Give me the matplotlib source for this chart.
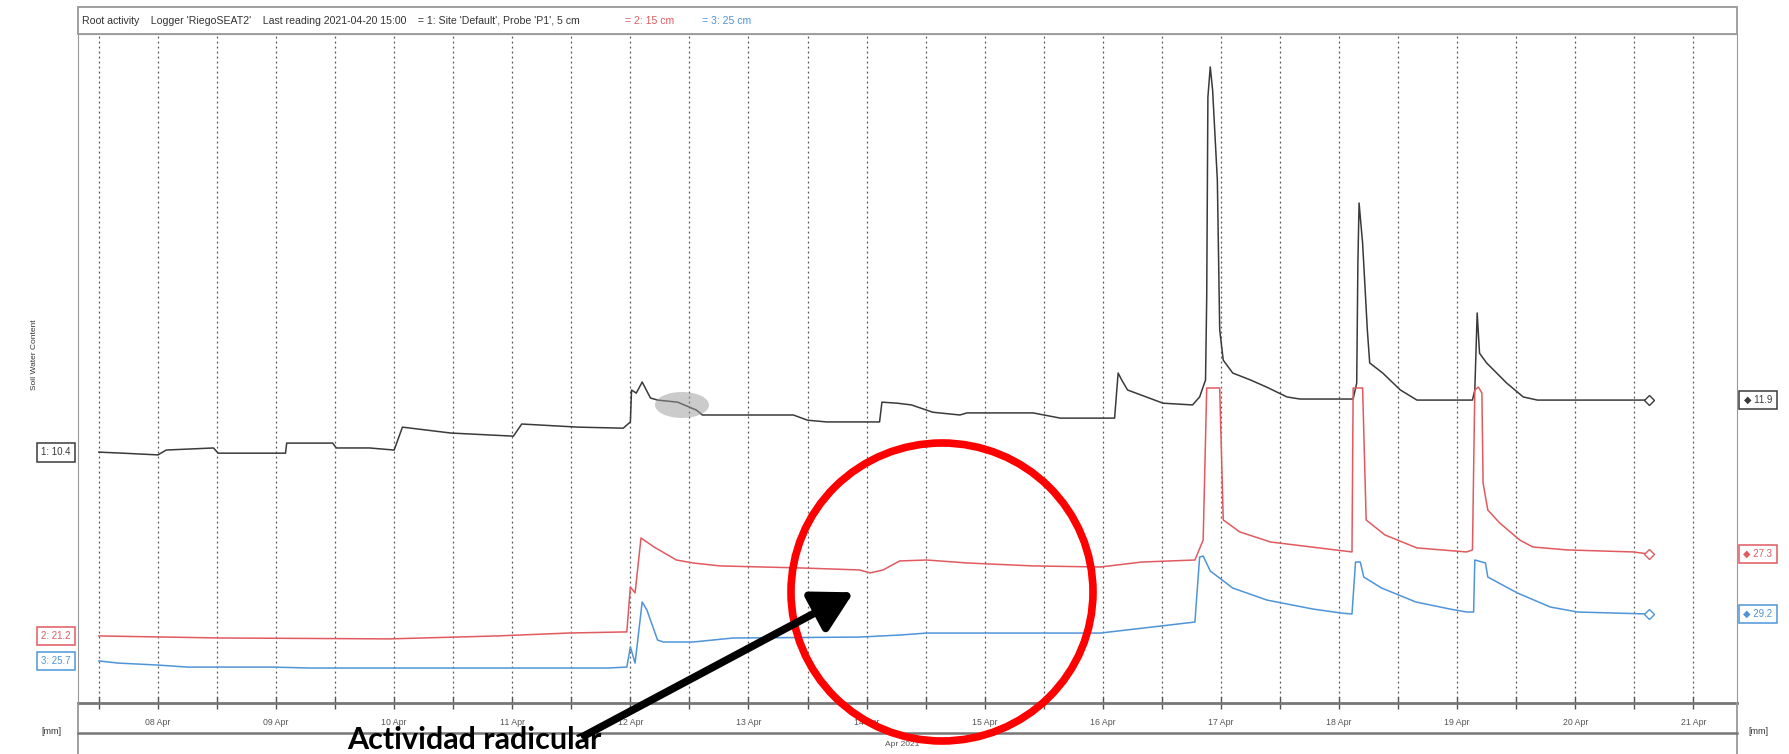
import matplotlib
matplotlib.use("Agg")
import matplotlib.pyplot as plt
import matplotlib.dates as mdates
import matplotlib.transforms as mtrans
from matplotlib.patches import Ellipse, Rectangle, FancyArrowPatch
from matplotlib.lines import Line2D
import pandas as pd

plt.rcParams["font.family"] = ["Liberation Sans", "DejaVu Sans"]

W, H = 1790, 754
t0 = pd.Timestamp("2021-04-08")

# soil water content [mm], x = days since 08 Apr 00:00
black_days = [-0.50, -0.30, 0.00, 0.07, 0.47, 0.51, 1.08, 1.09, 1.48, 1.51, 1.79, 2.00, 2.07,
              2.48, 3.01, 3.08, 3.56, 3.94, 4.00, 4.01, 4.05, 4.10, 4.17, 4.23, 4.40, 4.56,
              4.61, 5.01, 5.38, 5.50, 5.66, 6.11, 6.13, 6.26, 6.38, 6.56, 6.79, 6.85, 7.41,
              7.64, 8.10, 8.13, 8.16, 8.21, 8.51, 8.76, 8.82, 8.87, 8.88, 8.89, 8.91, 8.93,
              8.97, 8.99, 9.02, 9.10, 9.25, 9.39, 9.56, 9.67, 10.12, 10.15, 10.16, 10.17,
              10.20, 10.24, 10.26, 10.37, 10.52, 10.66, 11.13, 11.15, 11.17, 11.19, 11.25,
              11.42, 11.56, 11.68, 12.625]
black_mm = [10.40, 10.37, 10.32, 10.46, 10.52, 10.37, 10.37, 10.66, 10.66, 10.52, 10.52, 10.46,
            11.12, 10.95, 10.86, 11.21, 11.12, 11.09, 11.27, 12.19, 12.10, 12.42, 11.96, 11.90,
            11.84, 11.61, 11.47, 11.47, 11.47, 11.32, 11.27, 11.27, 11.84, 11.81, 11.76, 11.55,
            11.47, 11.53, 11.53, 11.38, 11.38, 12.68, 12.48, 12.19, 11.81, 11.76, 11.99, 12.48,
            14.87, 20.63, 21.50, 20.83, 18.24, 13.92, 13.05, 12.68, 12.48, 12.27, 11.99, 11.93,
            11.93, 12.39, 15.85, 17.58, 16.42, 13.92, 12.97, 12.68, 12.19, 11.90, 11.90, 12.19,
            14.41, 13.25, 12.97, 12.39, 11.99, 11.90, 11.90]

red_days = [-0.50, 0.51, 1.96, 2.87, 3.49, 3.97, 4.00, 4.04, 4.09, 4.20, 4.39, 4.53, 4.76,
            5.44, 5.94, 6.03, 6.14, 6.28, 6.51, 6.85, 7.41, 7.98, 8.33, 8.78, 8.85, 8.88,
            8.99, 9.02, 9.16, 9.42, 9.97, 10.11, 10.12, 10.20, 10.23, 10.39, 10.66, 11.08,
            11.13, 11.15, 11.18, 11.21, 11.22, 11.26, 11.36, 11.53, 11.64, 11.93, 12.49, 12.625]
red_mm = [21.20, 21.05, 20.98, 21.20, 21.42, 21.50, 24.84, 24.40, 28.49, 27.82, 26.85, 26.63,
          26.41, 26.26, 26.11, 25.89, 26.11, 26.78, 26.85, 26.63, 26.41, 26.33, 26.70, 26.85,
          28.34, 39.65, 39.65, 29.83, 28.94, 28.19, 27.60, 27.45, 39.65, 39.65, 29.83, 28.71,
          27.75, 27.45, 27.60, 39.50, 39.72, 39.28, 32.58, 30.57, 29.61, 28.34, 27.82, 27.60,
          27.45, 27.30]

blue_days = [-0.50, -0.34, 0.00, 0.25, 0.96, 1.29, 3.81, 3.97, 4.00, 4.04, 4.10, 4.14, 4.23,
             4.28, 4.53, 4.87, 5.94, 6.28, 6.51, 7.98, 8.71, 8.78, 8.82, 8.85, 8.91, 9.10,
             9.39, 9.78, 10.02, 10.11, 10.14, 10.18, 10.21, 10.36, 10.65, 10.94, 11.08, 11.14,
             11.15, 11.24, 11.26, 11.51, 11.79, 12.02, 12.625]
blue_mm = [25.70, 25.54, 25.39, 25.24, 25.24, 25.17, 25.17, 25.24, 26.74, 25.54, 30.10, 29.50,
           27.26, 27.11, 27.11, 27.41, 27.48, 27.63, 27.78, 27.78, 28.53, 28.60, 33.45, 33.53,
           32.41, 31.14, 30.24, 29.57, 29.27, 29.20, 33.08, 33.08, 31.96, 31.14, 30.10, 29.57,
           29.35, 29.35, 33.23, 33.01, 31.96, 30.77, 29.72, 29.35, 29.20]

series = [
    ("1", black_days, black_mm, "#3a3a3a", (3.17, 22.45)),
    ("2", red_days, red_mm, "#e05a5f", (16.21, 65.99)),
    ("3", blue_days, blue_mm, "#4f94d8", (22.56, 72.48)),
]


def fx(px):
    return px / W


def fy(py):
    return 1 - py / H


def to_time(days):
    return t0 + pd.to_timedelta(days, unit="D")


fig = plt.figure(figsize=(W / 100, H / 100), dpi=100)
ax = fig.add_axes([fx(78), fy(703), fx(1737) - fx(78), fy(34) - fy(703)])
axes = [ax, ax.twinx(), ax.twinx()]

ax.set_xlim(to_time(-0.677), to_time(13.37))
ax.xaxis.set_major_locator(mdates.DayLocator())
ax.xaxis.set_minor_locator(mdates.HourLocator(byhour=[12]))
ax.xaxis.set_major_formatter(mdates.DateFormatter("%d %b"))
ax.grid(True, which="both", axis="x", color="#555555", lw=0.9, ls=(0, (1.5, 2.5)))
ax.tick_params(axis="x", which="both", direction="inout", length=8, width=1,
               color="#555555", labelsize=6.3, labelcolor="#555555", pad=7)

for a, (num, d, v, col, lim) in zip(axes, series):
    a.plot(to_time(d), v, color=col, lw=1.1, zorder=3)
    a.plot(to_time(d[-1]), v[-1], marker="D", ms=5, mfc="white", mec=col, mew=1, zorder=4)
    a.set_ylim(*lim)
    a.set_yticks([])
    for s in a.spines.values():
        s.set_visible(False)
    tr = mtrans.blended_transform_factory(fig.transFigure, a.transData)
    a.text(fx(56), v[0], f"{num}: {v[0]:.1f}", transform=tr, fontsize=7, color=col,
           ha="center", va="center",
           bbox=dict(boxstyle="square,pad=0.45", fc="white", ec=col, lw=1.1))
    a.text(fx(1758), v[-1], f"\u25c6 {v[-1]:.1f}", transform=tr, fontsize=7, color=col,
           ha="center", va="center",
           bbox=dict(boxstyle="square,pad=0.45", fc="white", ec=col, lw=1.1))

for side in ["left", "right", "top"]:
    ax.spines[side].set_visible(True)
    ax.spines[side].set_color("#999999")
ax.spines["bottom"].set_visible(True)
ax.spines["bottom"].set_color("#777777")
ax.spines["bottom"].set_linewidth(2)

# frame, header band, lower band
fig.add_artist(Rectangle((fx(78), fy(34)), fx(1737) - fx(78), fy(7) - fy(34),
                         transform=fig.transFigure, fill=False, ec="#999999", lw=1.3))
for xp in [78, 1737]:
    fig.add_artist(Line2D([fx(xp), fx(xp)], [fy(703), 0], transform=fig.transFigure,
                          color="#999999", lw=1.3))
fig.add_artist(Line2D([fx(78), fx(1737)], [fy(733), fy(733)], transform=fig.transFigure,
                      color="#777777", lw=1.8))

fig.text(fx(82), fy(21), "Root activity    Logger 'RiegoSEAT2'    Last reading 2021-04-20 15:00"
         "    = 1: Site 'Default', Probe 'P1', 5 cm", fontsize=7.6, color="#333333",
         va="center")
fig.text(fx(625), fy(21), "= 2: 15 cm", fontsize=7.6, color="#e05a5f", va="center")
fig.text(fx(702), fy(21), "= 3: 25 cm", fontsize=7.6, color="#4f94d8", va="center")

fig.text(fx(34), fy(355), "Soil Water Content", rotation=90, fontsize=6, color="#333333",
         ha="center", va="center")
fig.text(fx(51), fy(731), "[mm]", fontsize=6.5, color="#333333", ha="center", va="center")
fig.text(fx(1758), fy(731), "[mm]", fontsize=6.5, color="#333333", ha="center", va="center")
fig.text(fx(902), fy(745), "Apr 2021", fontsize=6, color="#555555", ha="center", va="center")

# highlight blob near 12 Apr
fig.add_artist(Ellipse((fx(682), fy(405)), 54 / W, 26 / H, transform=fig.transFigure,
                       fc="#999999", ec="none", alpha=0.5, zorder=2))

# annotation: circle, arrow, text
fig.add_artist(Ellipse((fx(942), fy(592)), 302 / W, 298 / H, transform=fig.transFigure,
                       fill=False, ec="#ff0000", lw=5.5, zorder=10))
fig.add_artist(FancyArrowPatch((fx(582), fy(737)), (fx(856), fy(591)),
                               transform=fig.transFigure, color="black", lw=5.5,
                               arrowstyle="-|>,head_length=0.9,head_width=0.5",
                               mutation_scale=27, zorder=10))
fig.text(fx(474), fy(740), "Actividad radicular", fontsize=22, fontweight="bold",
         family=["Lato", "DejaVu Sans"], ha="center", va="center", zorder=11)

fig.savefig("out.png", dpi=100)
